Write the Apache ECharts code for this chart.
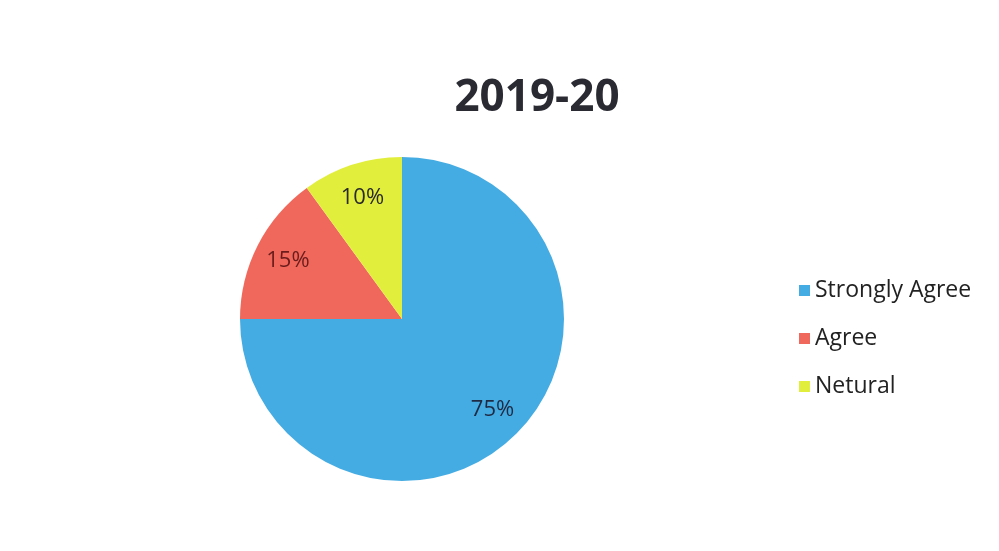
<!DOCTYPE html>
<html><head><meta charset="utf-8">
<script src="https://cdn.jsdelivr.net/npm/echarts@6/dist/echarts.min.js"></script>
<style>html,body{margin:0;padding:0;background:#fff}#c{width:999px;height:551px}</style>
</head><body><div id="c"></div>
<script>
const categories = ['Strongly Agree', 'Agree', 'Netural'];
const values = [75, 15, 10];
const titleText = '2019-20';

const colors = ['#45ace3', '#f0685b', '#e2ee3c'];
const labelColors = ['#1f2a44', '#6a1c1c', '#2a2a2a'];
const chart = echarts.init(document.getElementById('c'));
const mainData = categories.map((n, i) => ({ name: n, value: values[i], itemStyle: { color: colors[i] } }));
const labelData = categories.map((n, i) => ({ name: n, value: values[i], label: { color: labelColors[i] } }));
chart.setOption({
  backgroundColor: '#ffffff',
  title: { text: titleText, left: 532, top: 71, textAlign: 'center',
    textStyle: { fontFamily: 'Open Sans', fontWeight: 'bold', fontSize: 44, color: '#2a2a33' } },
  legend: { orient: 'vertical', left: 794, top: 274, itemWidth: 11, itemHeight: 11, itemGap: 25, icon: 'rect',
    data: categories, selectedMode: false,
    textStyle: { fontFamily: 'Open Sans', fontSize: 23, lineHeight: 23, color: '#222' } },
  series: [
    { type: 'pie', center: [402, 319], radius: [0, 162], startAngle: 90, clockwise: true,
      label: { show: false }, labelLine: { show: false }, silent: true,
      data: mainData, animation: false },
    { type: 'pie', center: [402, 319], radius: [0, 250], startAngle: 90, clockwise: true, silent: true,
      itemStyle: { color: 'rgba(0,0,0,0)' }, animation: false,
      label: { show: true, position: 'inside', formatter: '{c}%', fontFamily: 'Open Sans', fontSize: 22 },
      labelLine: { show: false }, data: labelData }
  ]
});
</script></body></html>
